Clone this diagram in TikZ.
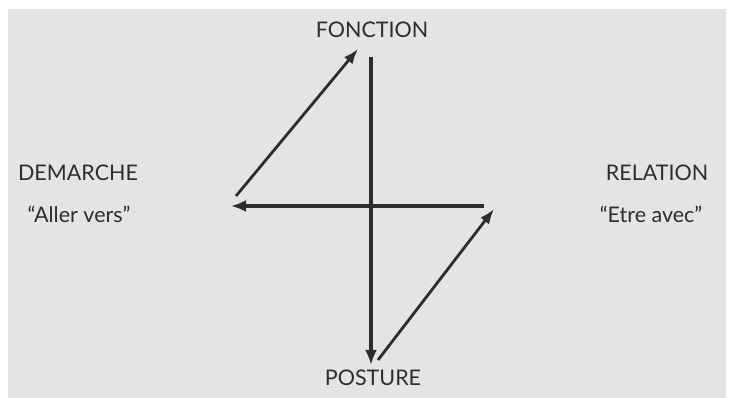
\documentclass[tikz,border=0pt]{standalone}
\usepackage{fontspec}
\setmainfont{Lato}
\usepackage{xcolor}
\usetikzlibrary{arrows.meta,positioning}
\definecolor{panelgray}{RGB}{228,228,228}
\definecolor{inkgray}{RGB}{45,45,45}
\tikzset{
  polelabel/.style={
    text=inkgray,
    inner sep=0pt,
    font=\fontsize{21.5}{24}\selectfont
  },
  quotelabel/.style={
    text=inkgray,
    inner sep=0pt,
    font=\fontsize{21.5}{24}\selectfont
  },
  axisarrow/.style={
    -{Latex[length=15pt,width=12pt]},
    line width=3.8pt,
    draw=inkgray
  },
  sidearrow/.style={
    -{Latex[length=15pt,width=11pt]},
    line width=2.8pt,
    draw=inkgray
  }
}

\begin{document}
\begin{tikzpicture}[x=1pt,y=1pt]
\useasboundingbox (0,0) rectangle (729,398);
\fill[white] (0,0) rectangle (729,398);
\fill[panelgray] (8,0) rectangle (726,389);

\node[polelabel] (fonction) at (372,368) {FONCTION};
\node[polelabel] (posture) at (373,20) {POSTURE};
\node[polelabel] (demarche) at (78,225) {DEMARCHE};
\node[quotelabel] (allervers) at (79,184) {``Aller vers''};
\node[polelabel] (relation) at (657,225) {RELATION};
\node[quotelabel] (etreavec) at (651,184) {``Etre avec''};

\coordinate (vtop) at (371,341);
\coordinate (vbot) at (371,33);
\coordinate (hright) at (484,192);
\coordinate (hleft) at (231,192);
\coordinate (dlow) at (236,202);
\coordinate (dhigh) at (358,349);
\coordinate (dbot) at (378,38);
\coordinate (dtop) at (494,189);

\draw[axisarrow] (vtop) -- (vbot);
\draw[axisarrow] (hright) -- (hleft);
\draw[sidearrow] (dlow) -- (dhigh);
\draw[sidearrow] (dbot) -- (dtop);
\end{tikzpicture}
\end{document}
